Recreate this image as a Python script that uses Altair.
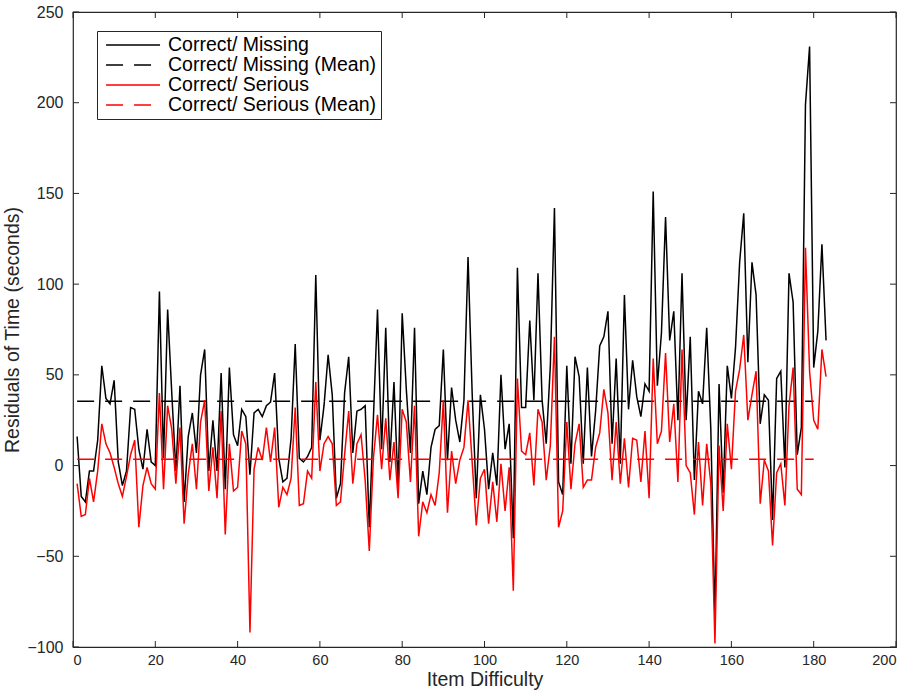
import altair as alt
import pandas as pd

# ---------------- data ----------------
items = list(range(1, 184))

missing = [
    16, -17, -20, -3, -3, 14, 55, 37, 34, 47,
    2, -11, -3, 32, 31, 9, -2, 20, 2, 0,
    96, 4, 86, 40, -3, 44, -20, 16, 29, 7,
    50, 64, -3, 25, -3, 51, -13, 54, 17, 11,
    31, 27, -5, 29, 31, 27, 33, 35, 51, 4,
    -9, -7, 15, 67, 4, 2, 5, 10, 105, 14,
    33, 61, 39, -18, -10, 40, 60, 7, 30, 31,
    33, -34, 26, 86, 9, 76, 2, 46, -12, 84,
    42, 7, 76, -21, -3, -16, 10, 20, 22, 64,
    3, 43, 25, 13, 36, 115, 40, -18, 39, 20,
    -13, 7, -11, 50, 9, 23, -40, 109, 32, 32,
    80, 36, 106, 36, 12, 55, 142, -9, -16, 55,
    1, 60, 49, 1, 54, 5, 30, 66, 71, 85,
    12, 59, 1, 94, 31, 58, 38, 27, 45, 41,
    151, 44, 73, 137, 69, 85, 25, 106, 25, 71,
    -8, 41, 34, 76, 20, -85, 45, -15, 55, 37,
    65, 112, 139, 57, 112, 94, 23, 39, 36, -30,
    48, 52, -1, 106, 90, 6, 21, 199, 231, 54,
    74, 122, 69,
]

serious = [
    -10, -28, -27, -7, -20, -3, 23, 12, 7, -1,
    -10, -17, -6, 6, 14, -34, -11, -1, -10, -13,
    40, -13, 33, 20, -10, 21, -32, -5, 12, -13,
    24, 36, -14, 10, -18, 30, -38, 12, -14, -12,
    19, 12, -92, -2, 10, 3, 21, 2, 21, -23,
    -12, -16, -7, 32, -22, -21, -3, -7, 46, -3,
    12, 16, 12, -22, -20, 6, 30, -10, 12, 17,
    -8, -47, 4, 28, -2, 26, -8, 13, -18, 31,
    24, -9, 33, -39, -20, -26, -16, -22, -4, 36,
    -26, 8, -10, 3, 10, 36, 2, -33, -7, -2,
    -32, -9, -31, 1, -25, -1, -69, 48, 8, 6,
    18, -11, 31, 24, -8, 11, 71, -34, -25, 24,
    -13, 12, 23, -12, -8, -8, 10, 18, 42, 29,
    -8, 24, -10, 15, -12, 15, 14, -9, 19, -18,
    59, 12, 19, 62, 13, 34, -9, 64, 0, -4,
    -27, 13, -22, 12, -10, -98, 11, -25, 23, -2,
    41, 53, 72, 25, 39, 52, -21, 3, -3, -44,
    -4, 1, -22, 33, 54, -13, -16, 120, 52, 25,
    20, 64, 49,
]

missing_mean = 35.5
serious_mean = 3.5
mean_span = [1, 180]

series_names = [
    "Correct/ Missing",
    "Correct/ Missing (Mean)",
    "Correct/ Serious",
    "Correct/ Serious (Mean)",
]
series_colors = ["#000000", "#000000", "#ff0000", "#ff0000"]

x_ticks = list(range(0, 201, 20))
y_ticks = list(range(-100, 251, 50))

# ---------------- tables ----------------
rows = []
for i, v in zip(items, missing):
    rows.append({"item": i, "value": v, "series": series_names[0]})
for i in mean_span:
    rows.append({"item": i, "value": missing_mean, "series": series_names[1]})
for i, v in zip(items, serious):
    rows.append({"item": i, "value": v, "series": series_names[2]})
for i in mean_span:
    rows.append({"item": i, "value": serious_mean, "series": series_names[3]})
df = pd.DataFrame(rows)

xt_df = pd.DataFrame({"t": x_ticks})
yt_df = pd.DataFrame({"t": y_ticks})

W, H = 823, 635
FONT = "Liberation Sans"
INK = "#262626"
TICK = 6

x_scale = alt.Scale(domain=[0, 200], nice=False, zero=False)
y_scale = alt.Scale(domain=[-100, 250], nice=False, zero=False)
x_axis = alt.Axis(
    values=x_ticks, title="Item Difficulty", tickSize=0, domain=False,
    grid=False, labelFontSize=14.5, labelPadding=6, labelFont=FONT,
    labelColor=INK, titleFont=FONT, titleFontSize=19.5,
    titleFontWeight="normal", titleColor=INK, titlePadding=4,
)
y_axis = alt.Axis(
    values=y_ticks, title="Residuals of Time (seconds)", tickSize=0,
    domain=False, grid=False, labelFontSize=16, labelPadding=10,
    labelFont=FONT, labelColor=INK, titleFont=FONT, titleFontSize=19.5,
    titleFontWeight="normal", titleColor=INK, titlePadding=4,
)

legend = alt.Legend(
    title=None, orient="none", legendX=24, legendY=19,
    fillColor="#ffffff", strokeColor=INK, padding=4,
    symbolType="M-0.55,0H5.45", symbolSize=324, symbolStrokeWidth=1.4,
    symbolFillColor="transparent",
    labelFont=FONT, labelFontSize=19.5, labelColor="#000000", labelOffset=47,
    labelLimit=0, rowPadding=-1,
)
color = alt.Color(
    "series:N",
    scale=alt.Scale(domain=series_names, range=series_colors),
    legend=legend,
)
dash = alt.StrokeDash(
    "series:N",
    scale=alt.Scale(domain=series_names, range=[[1, 0], [17, 11], [1, 0], [17, 11]]),
    legend=legend,
)

layers = []
for name in series_names:
    layers.append(
        alt.Chart(df)
        .transform_filter(alt.datum.series == name)
        .mark_line(strokeWidth=1.5)
        .encode(
            x=alt.X("item:Q", scale=x_scale, axis=x_axis),
            y=alt.Y("value:Q", scale=y_scale, axis=y_axis),
            color=color,
            strokeDash=dash,
        )
    )

tick_x = alt.X("t:Q", scale=x_scale, axis=x_axis)
tick_y = alt.Y("t:Q", scale=y_scale, axis=y_axis)
layers += [
    alt.Chart(xt_df).mark_rule(color=INK, strokeWidth=1).encode(
        x=tick_x, y=alt.value(H), y2=alt.value(H - TICK)),
    alt.Chart(xt_df).mark_rule(color=INK, strokeWidth=1).encode(
        x=tick_x, y=alt.value(0), y2=alt.value(TICK)),
    alt.Chart(yt_df).mark_rule(color=INK, strokeWidth=1).encode(
        y=tick_y, x=alt.value(0), x2=alt.value(TICK)),
    alt.Chart(yt_df).mark_rule(color=INK, strokeWidth=1).encode(
        y=tick_y, x=alt.value(W), x2=alt.value(W - TICK)),
]

chart = (
    alt.layer(*layers)
    .properties(
        width=W, height=H,
        autosize=alt.AutoSizeParams(type="none"),
        padding={"left": 73, "top": 12, "right": 16, "bottom": 47},
        background="#ffffff",
    )
    .configure_view(stroke=INK, strokeWidth=1.2)
)

chart.save("out.html", embed_options={"renderer": "svg", "actions": False})
